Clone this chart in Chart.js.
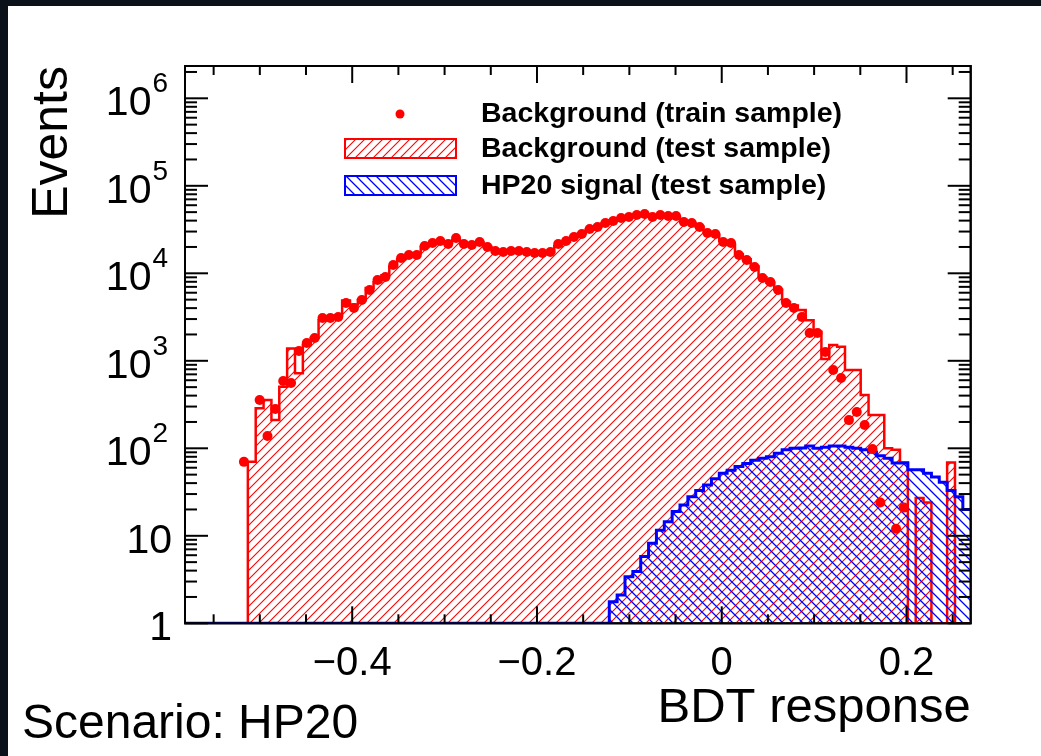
<!DOCTYPE html>
<html>
<head>
<meta charset="utf-8">
<title>BDT response - HP20</title>
<script src="https://cdn.jsdelivr.net/npm/chart.js@4.4.1/dist/chart.umd.min.js"></script>
<style>
  html, body { margin: 0; padding: 0; background: #0b1119; }
  #bdt { display: block; }
</style>
</head>
<body>
<canvas id="bdt" width="1041" height="756"></canvas>
<script>
// histogram binning (100 bins over the axis range)
const nBins = 100;
const xMin = -0.581;
const xMax = 0.2695;
const yMin = 1;
const yMax = 2.34e6;

// background, test sample (hatched red histogram)
const bkgTest = [
  0, 0, 0, 0, 0, 0, 0, 0,
  70, 287, 357, 210, 506, 1380, 720, 1520, 1822, 2900,
  3087, 3300, 4900, 4400, 4955, 6800, 7900, 9500, 12000, 14500,
  16190, 17000, 20000, 21500, 23000, 22500, 24000, 22000, 21500, 22500,
  20000, 18500, 17500, 17500, 18000, 17500, 17000, 17300, 17500, 20500,
  23000, 26000, 28500, 31500, 34000, 37000, 40000, 42500, 44500, 46000,
  47000, 45000, 46000, 45500, 44000, 39000, 37000, 34000, 29500, 27500,
  23500, 21500, 16500, 14500, 12000, 9000, 7800, 6500, 4700, 4300,
  3800, 2900, 2150, 1050, 1520, 1450, 785, 785, 406, 240,
  240, 100, 96, 69, 0, 27, 24, 0, 0, 69,
  0, 0,
];

// background, train sample (red points, 0 = empty bin)
const bkgTrain = [
  0, 0, 0, 0, 0, 0, 0, 70,
  0, 357, 138, 281, 588, 557, 1294, 1597, 1822, 3087,
  3087, 3167, 4584, 4012, 4955, 6445, 8382, 9071, 12440, 14960,
  16190, 16190, 20500, 22190, 23390, 21620, 25300, 21620, 21050, 22800,
  19990, 17990, 17510, 17990, 17990, 17510, 17060, 17060, 17510, 21620,
  23390, 26000, 28120, 32060, 33800, 37570, 39620, 42850, 43960, 46330,
  47620, 43960, 46330, 45160, 45160, 38550, 37570, 33800, 28900, 28120,
  22800, 22190, 16190, 14190, 11800, 8830, 7960, 6445, 4584, 4012,
  3167, 2080, 2080, 1262, 785, 636, 210, 260, 185, 98,
  24, 0, 12, 21, 0, 0, 0, 0, 0, 0,
  0, 0,
];

// HP20 signal, test sample (hatched blue histogram)
const sigTest = [
  0, 0, 0, 0, 0, 0, 0, 0, 0, 0,
  0, 0, 0, 0, 0, 0, 0, 0, 0, 0,
  0, 0, 0, 0, 0, 0, 0, 0, 0, 0,
  0, 0, 0, 0, 0, 0, 0, 0, 0, 0,
  0, 0, 0, 0, 0, 0, 0, 0, 0, 0,
  0, 0, 0, 0, 1.76, 2.1, 3.4, 3.9, 5.8, 8.2,
  11.6, 14.5, 18.9, 22.5, 28, 33, 38, 45, 52, 56,
  62, 67, 73, 77, 80, 88, 96, 100, 101, 106,
  100, 103, 106, 106, 103, 100, 96, 91, 82, 77,
  68, 68, 57, 57, 52, 47, 41, 33, 28, 20,
];

// axes
const xMajorTicks = [-0.4, -0.2, 0, 0.2];
const xTickLabels = ["\u22120.4", "\u22120.2", "0", "0.2"];
const xMinorTicks = [-0.55, -0.5, -0.45, -0.35, -0.3, -0.25, -0.15, -0.1, -0.05, 0.05, 0.1, 0.15, 0.25];
const yMajorTicks = [1, 10, 100, 1e3, 1e4, 1e5, 1e6];
const yTickLabels = [["1", ""], ["10", ""], ["10", "2"], ["10", "3"], ["10", "4"], ["10", "5"], ["10", "6"]];

const legendLabels = ["Background (train sample)", "Background (test sample)", "HP20 signal (test sample)"];
const xTitle = "BDT response";
const yTitle = "Events";
const scenarioText = "Scenario: HP20";

const FONT = "'Liberation Sans', Arial, Helvetica, sans-serif";

const binWidth = (xMax - xMin) / nBins;
const edges = [];
for (let i = 0; i <= nBins; i++) edges.push(xMin + i * binWidth);

// step-line points at the left edge of every bin plus the closing right edge
function histPoints(counts) {
  const pts = counts.map((c, i) => ({ x: edges[i], y: Math.max(c, yMin) }));
  pts.push({ x: edges[nBins], y: Math.max(counts[nBins - 1], yMin) });
  return pts;
}

function dotPoints(counts) {
  return counts.map((c, i) => ({ x: edges[i] + binWidth / 2, y: c > 0 ? c : null }));
}

function hatch(color, size, width, forward) {
  const c = document.createElement("canvas");
  c.width = size;
  c.height = size;
  const g = c.getContext("2d");
  g.strokeStyle = color;
  g.lineWidth = width;
  g.beginPath();
  if (forward) {
    g.moveTo(-1, size + 1); g.lineTo(size + 1, -1);
    g.moveTo(-1, 1); g.lineTo(1, -1);
    g.moveTo(size - 1, size + 1); g.lineTo(size + 1, size - 1);
  } else {
    g.moveTo(-1, -1); g.lineTo(size + 1, size + 1);
    g.moveTo(size - 1, -1); g.lineTo(size + 1, 1);
    g.moveTo(-1, size - 1); g.lineTo(1, size + 1);
  }
  g.stroke();
  return g.createPattern(c, "repeat");
}

const redHatch = hatch("#ff0000", 9, 1.1, true);
const blueHatch = hatch("#0000ff", 10, 1.3, false);

function line(ctx, x1, y1, x2, y2) {
  ctx.beginPath();
  ctx.moveTo(x1, y1);
  ctx.lineTo(x2, y2);
  ctx.stroke();
}

const rootStyle = {
  id: "rootStyle",
  beforeDraw(chart) {
    const ctx = chart.ctx;
    ctx.save();
    ctx.fillStyle = "#0b1119";
    ctx.fillRect(0, 0, chart.width, chart.height);
    ctx.fillStyle = "#ffffff";
    ctx.fillRect(8, 6, chart.width - 8, chart.height - 6);
    const { left, right, top, bottom } = chart.chartArea;
    ctx.strokeStyle = "#000";
    ctx.lineWidth = 2;
    ctx.strokeRect(left, top, right - left, bottom - top);
    ctx.restore();
  },
  afterDraw(chart) {
    const ctx = chart.ctx;
    const xs = chart.scales.x;
    const ys = chart.scales.y;
    const { left, right, top, bottom } = chart.chartArea;
    ctx.save();
    ctx.strokeStyle = "#000";
    ctx.lineWidth = 2;

    // x ticks, bottom and top
    xMinorTicks.forEach((v) => {
      const px = xs.getPixelForValue(v);
      line(ctx, px, bottom, px, bottom - 9);
      line(ctx, px, top, px, top + 9);
    });
    xMajorTicks.forEach((v) => {
      const px = xs.getPixelForValue(v);
      line(ctx, px, bottom, px, bottom - 17);
      line(ctx, px, top, px, top + 17);
    });

    // y ticks, left and right
    yMajorTicks.forEach((dec) => {
      const py = ys.getPixelForValue(dec);
      line(ctx, left, py, left + 23, py);
      line(ctx, right, py, right - 23, py);
      for (let m = 2; m <= 9; m++) {
        const v = dec * m;
        if (v > yMax) break;
        const pm = ys.getPixelForValue(v);
        line(ctx, left, pm, left + 12, pm);
        line(ctx, right, pm, right - 12, pm);
      }
    });

    // frame on top of the marks
    ctx.strokeRect(left, top, right - left, bottom - top);

    ctx.fillStyle = "#000";

    // x tick labels
    ctx.font = "40px " + FONT;
    ctx.textAlign = "center";
    ctx.textBaseline = "alphabetic";
    xMajorTicks.forEach((v, i) => {
      ctx.fillText(xTickLabels[i], xs.getPixelForValue(v), bottom + 52);
    });

    // y tick labels with superscript exponents
    yMajorTicks.forEach((v, i) => {
      const py = ys.getPixelForValue(v);
      const [base, exp] = yTickLabels[i];
      let xr = exp ? left - 17 : left - 13;
      if (exp) {
        ctx.font = "28px " + FONT;
        ctx.textAlign = "right";
        ctx.fillText(exp, xr, py - 6);
        xr -= ctx.measureText(exp).width + 1;
      }
      ctx.font = "41px " + FONT;
      ctx.textAlign = "right";
      ctx.fillText(base, xr, py + 17);
    });

    // axis titles
    ctx.font = "49px " + FONT;
    ctx.textAlign = "right";
    ctx.fillText(xTitle, right, 722);

    ctx.save();
    ctx.font = "50px " + FONT;
    ctx.translate(67, top);
    ctx.rotate(-Math.PI / 2);
    ctx.textAlign = "right";
    ctx.fillText(yTitle, 0, 0);
    ctx.restore();

    ctx.font = "48px " + FONT;
    ctx.textAlign = "left";
    ctx.fillText(scenarioText, 22, 738);

    // legend
    ctx.fillStyle = "#ff0000";
    ctx.beginPath();
    ctx.arc(400, 114, 4.5, 0, Math.PI * 2);
    ctx.fill();

    ctx.fillStyle = redHatch;
    ctx.fillRect(345, 139, 111, 19);
    ctx.strokeStyle = "#ff0000";
    ctx.strokeRect(345, 139, 111, 19);

    ctx.fillStyle = blueHatch;
    ctx.fillRect(345, 176, 111, 19);
    ctx.strokeStyle = "#0000ff";
    ctx.strokeRect(345, 176, 111, 19);

    ctx.fillStyle = "#000";
    ctx.font = "bold 28.5px " + FONT;
    ctx.textAlign = "left";
    ctx.textBaseline = "middle";
    ctx.fillText(legendLabels[0], 481, 114);
    ctx.fillText(legendLabels[1], 481, 149);
    ctx.fillText(legendLabels[2], 481, 186);

    ctx.restore();
  },
};

new Chart(document.getElementById("bdt"), {
  type: "line",
  data: {
    datasets: [
      {
        label: legendLabels[0],
        data: dotPoints(bkgTrain),
        showLine: false,
        pointRadius: 5,
        pointBorderWidth: 0,
        pointBackgroundColor: "#ff0000",
        pointBorderColor: "#ff0000",
      },
      {
        label: legendLabels[2],
        data: histPoints(sigTest),
        stepped: true,
        borderColor: "#0000ff",
        borderWidth: 3,
        backgroundColor: blueHatch,
        fill: "start",
        pointRadius: 0,
      },
      {
        label: legendLabels[1],
        data: histPoints(bkgTest),
        stepped: true,
        borderColor: "#ff0000",
        borderWidth: 2.5,
        backgroundColor: redHatch,
        fill: "start",
        pointRadius: 0,
      },
    ],
  },
  options: {
    responsive: false,
    animation: false,
    devicePixelRatio: 1,
    events: [],
    layout: { padding: { left: 185, top: 66, right: 70.3, bottom: 132.7 } },
    scales: {
      x: { type: "linear", min: xMin, max: xMax, display: false },
      y: { type: "logarithmic", min: yMin, max: yMax, display: false },
    },
    plugins: {
      legend: { display: false },
      tooltip: { enabled: false },
    },
  },
  plugins: [rootStyle],
});
</script>
</body>
</html>
